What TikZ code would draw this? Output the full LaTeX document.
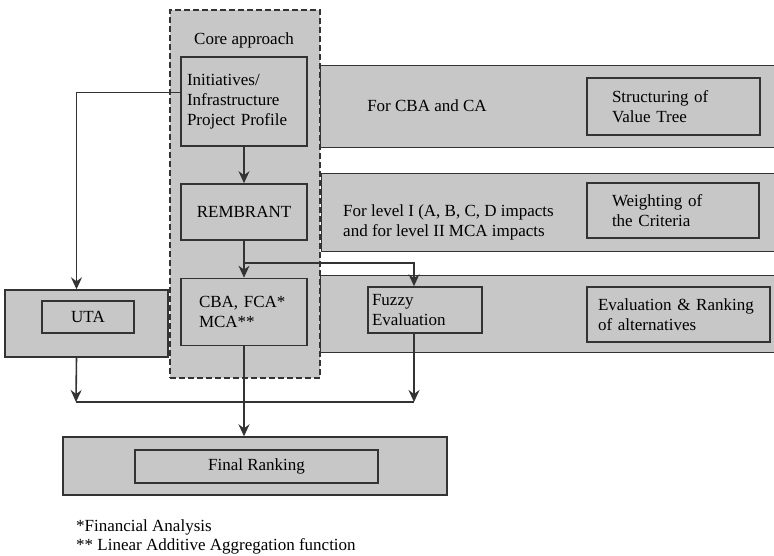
\documentclass[tikz,border=0pt]{standalone}
\usepackage{fontspec}
\setmainfont{Liberation Serif}
\usepackage{tikz}
\usetikzlibrary{positioning,arrows.meta,calc}

\begin{document}
\begin{tikzpicture}[
  x=1pt, y=-1pt,
  band/.style={rectangle, draw=black!80, line width=1.4pt, fill=black!22, inner sep=0pt},
  inbox/.style={rectangle, draw=black!80, line width=1.7pt, fill=black!22, inner sep=0pt,
                font=\fontsize{17}{20}\selectfont, align=left},
  frame/.style={rectangle, draw=black!80, line width=1.5pt, dash pattern=on 6pt off 3pt,
                fill=black!22, inner sep=0pt},
  txt/.style={font=\fontsize{17}{20}\selectfont, align=left, inner sep=0pt},
  arrow/.style={-{Stealth[length=12pt, width=11pt, inset=4pt]}, line width=1.6pt, draw=black!80},
  link/.style={line width=1.6pt, draw=black!80}
]
\clip (0,0) rectangle (774,556);

% Right hand bands
\node[band, minimum width=460, minimum height=82, anchor=north west] (cbaband) at (320,65) {};
\node[band, minimum width=460, minimum height=78, anchor=north west] (wband) at (321,173) {};
\node[band, minimum width=460, minimum height=77, anchor=north west] (evband) at (320,275) {};

% Core approach
\node[frame, minimum width=150, minimum height=368] (core) at (245,194) {};
\node[txt] (coretitle) at (244,40) {Core approach};

\node[inbox, text width=114, inner xsep=6, minimum height=89] (init) at (244,101.5)
  {Initiatives/\\Infrastructure\\Project Profile};
\node[inbox, minimum width=126, minimum height=56, align=center] (rembrant) at (244,212) {REMBRANT};
\node[inbox, text width=90, inner xsep=18, minimum height=67] (cba) at (244,312)
  {CBA, FCA*\\MCA**};

% Band texts
\node[txt] (cbatext) at (427,106) {For CBA and CA};
\node[txt, anchor=west] (wtext) at (343,222)
  {For level I (A, B, C, D impacts\\and for level II MCA impacts};

\node[inbox, text width=123, inner xsep=25, minimum height=57] (struct) at (673.5,106.5)
  {Structuring of\\Value Tree};
\node[inbox, text width=122, inner xsep=25, minimum height=55] (weight) at (673,210.5)
  {Weighting of\\the Criteria};
\node[inbox, text width=106, inner xsep=4, minimum height=46] (fuzzy) at (425,310)
  {Fuzzy\\Evaluation};
\node[inbox, text width=161, inner xsep=11, minimum height=55] (eval) at (678.5,314.5)
  {Evaluation \& Ranking\\of alternatives};

% UTA
\node[band, minimum width=163, minimum height=67] (utaband) at (86.5,323.5) {};
\node[inbox, minimum width=92, minimum height=32, align=center] (uta) at (88,317) {UTA};

% Final ranking
\node[band, minimum width=384, minimum height=58] (finalband) at (255,466) {};
\node[inbox, minimum width=243, minimum height=33, align=center] (final) at (256.5,466.5) {Final Ranking};

% Connectors
\draw[arrow] (init) -- (rembrant);
\draw[arrow] (rembrant) -- (cba);
\coordinate (split) at ($(rembrant.south)!0.6!(cba.north)$);
\draw[arrow] (split) -| ([xshift=-11pt]fuzzy.north);
\draw[arrow] ([yshift=9pt]init.west) -| ([xshift=-10pt]utaband.north);

\coordinate (joinL) at (76,402);
\coordinate (joinR) at (414,402);
\draw[arrow] ([xshift=-10pt]utaband.south) -- (joinL);
\draw[arrow] ([xshift=-11pt]fuzzy.south) -- (joinR);
\draw[link] (joinL) -- (joinR);
\draw[arrow] (cba.south) -- (cba.south |- finalband.north);

% Footnotes
\node[txt, anchor=west] (note1) at (76,527) {*Financial Analysis};
\node[txt, anchor=west] (note2) at (76,546) {** Linear Additive Aggregation function};

\end{tikzpicture}
\end{document}
